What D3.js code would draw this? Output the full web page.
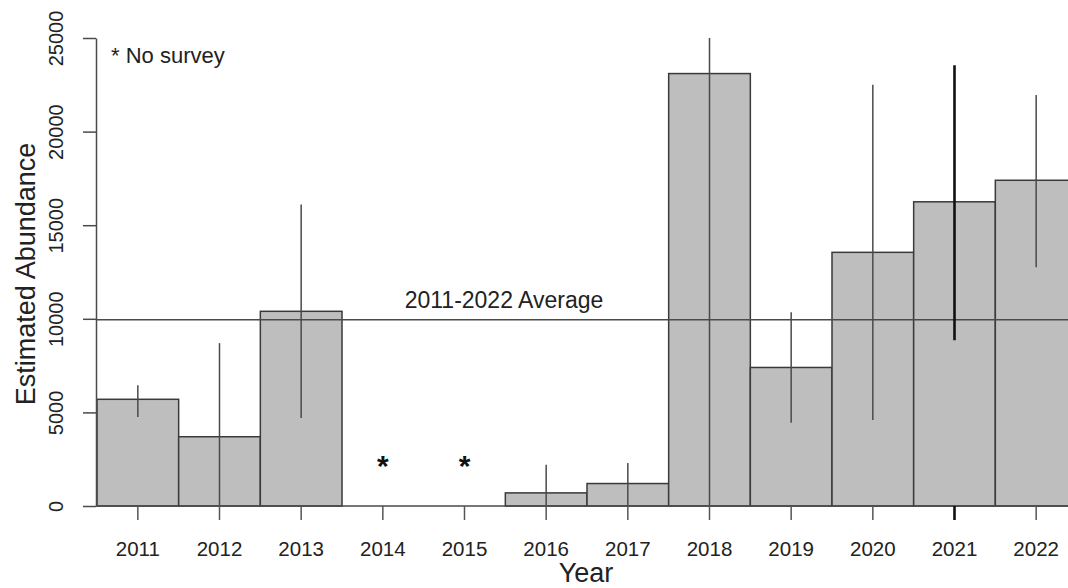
<!DOCTYPE html>
<html>
<head>
<meta charset="utf-8">
<script src="https://cdn.jsdelivr.net/npm/d3@7"></script>
<style>
  html, body { margin: 0; padding: 0; background: #fff; }
  svg { display: block; font-family: "Liberation Sans", Arial, sans-serif; }
</style>
</head>
<body>
<svg id="chart" width="1068" height="588"></svg>
<script>
// ---- data ----
const years = ["2011","2012","2013","2014","2015","2016","2017","2018","2019","2020","2021","2022"];
const abundance = [5700, 3700, 10400, null, null, 700, 1200, 23100, 7400, 13550, 16250, 17400];
const lowerCI   = [4750, 0, 4700, null, null, 0, 0, 0, 4450, 4600, 8850, 12750];
const upperCI   = [6450, 8700, 16100, null, null, 2200, 2300, 25000, 10350, 22500, 23550, 21950];
const noSurveyYears = ["2014", "2015"];
const averageValue = 9950;
const yTicks = [0, 5000, 10000, 15000, 20000, 25000];
const averageLabel = "2011-2022 Average";
const noSurveyLabel = "* No survey";
const xTitle = "Year";
const yTitle = "Estimated Abundance";

const rows = years.map((y, i) => ({ year: y, value: abundance[i], lo: lowerCI[i], hi: upperCI[i] }));

// ---- layout ----
const svg = d3.select("#chart");
const plotLeft = 96, plotRight = 1068, yTop = 38, yBottom = 506;

const x = d3.scaleBand().domain(years).range([97, 1077]).padding(0);
const y = d3.scaleLinear().domain([0, 25000]).range([yBottom, yTop]);

const lineColor = "#4a4a4a";

// bars
svg.append("g").selectAll("rect")
  .data(rows.filter(d => d.value != null))
  .join("rect")
  .attr("x", d => x(d.year))
  .attr("y", d => y(d.value))
  .attr("width", x.bandwidth())
  .attr("height", d => y(0) - y(d.value))
  .attr("fill", "#bebebe")
  .attr("stroke", "#3a3a3a")
  .attr("stroke-width", 1.5);

// baseline at zero
svg.append("line")
  .attr("x1", plotLeft).attr("x2", plotRight)
  .attr("y1", y(0)).attr("y2", y(0))
  .attr("stroke", lineColor).attr("stroke-width", 1.5);

// average line
svg.append("line")
  .attr("x1", plotLeft).attr("x2", plotRight)
  .attr("y1", y(averageValue)).attr("y2", y(averageValue))
  .attr("stroke", lineColor).attr("stroke-width", 1.5);

// error bars
svg.append("g").selectAll("line")
  .data(rows.filter(d => d.value != null))
  .join("line")
  .attr("x1", d => x(d.year) + x.bandwidth() / 2)
  .attr("x2", d => x(d.year) + x.bandwidth() / 2)
  .attr("y1", d => y(d.lo))
  .attr("y2", d => y(d.hi))
  .attr("stroke", d => d.year === "2021" ? "#111" : "#4a4a4a")
  .attr("stroke-width", d => d.year === "2021" ? 2.6 : 1.5);

// x axis
const xAxis = svg.append("g")
  .attr("transform", `translate(0,${yBottom})`)
  .call(d3.axisBottom(x).tickSize(14).tickSizeOuter(0).tickPadding(20));
xAxis.select(".domain").remove();
xAxis.selectAll(".tick line")
  .attr("stroke", d => d === "2021" ? "#111" : "#555")
  .attr("stroke-width", d => d === "2021" ? 2.6 : 1.5);
xAxis.selectAll(".tick text")
  .attr("font-size", 20.5)
  .attr("font-family", "Liberation Sans, Arial, sans-serif")
  .attr("fill", "#222")
  .attr("dy", null)
  .attr("y", 50);

// y axis
const yAxis = svg.append("g")
  .attr("transform", `translate(${plotLeft},0)`)
  .call(d3.axisLeft(y).tickValues(yTicks).tickSize(13).tickSizeOuter(0).tickFormat(d3.format("d")));
yAxis.select(".domain").attr("stroke", lineColor).attr("stroke-width", 1.5);
yAxis.selectAll(".tick line").attr("stroke", lineColor).attr("stroke-width", 1.5);
yAxis.selectAll(".tick text")
  .attr("font-size", 20)
  .attr("font-family", "Liberation Sans, Arial, sans-serif")
  .attr("fill", "#222")
  .attr("x", null).attr("dy", null)
  .attr("text-anchor", "middle")
  .attr("transform", "translate(-33,0) rotate(-90)");

// titles
svg.append("text")
  .attr("x", 586).attr("y", 582)
  .attr("text-anchor", "middle")
  .attr("font-size", 27)
  .attr("fill", "#222")
  .text(xTitle);

svg.append("text")
  .attr("transform", "translate(35,274) rotate(-90)")
  .attr("text-anchor", "middle")
  .attr("font-size", 27)
  .attr("fill", "#222")
  .text(yTitle);

// annotations
svg.append("text")
  .attr("x", 111).attr("y", 63)
  .attr("font-size", 22)
  .attr("fill", "#222")
  .text(noSurveyLabel);

svg.append("text")
  .attr("x", 504).attr("y", 308)
  .attr("text-anchor", "middle")
  .attr("font-size", 23)
  .attr("fill", "#222")
  .text(averageLabel);

svg.append("g").selectAll("text")
  .data(noSurveyYears)
  .join("text")
  .attr("x", d => x(d) + x.bandwidth() / 2)
  .attr("y", y(0) - 30)
  .attr("text-anchor", "middle")
  .attr("font-size", 30)
  .attr("font-weight", "bold")
  .attr("fill", "#111")
  .text("*");
</script>
</body>
</html>
